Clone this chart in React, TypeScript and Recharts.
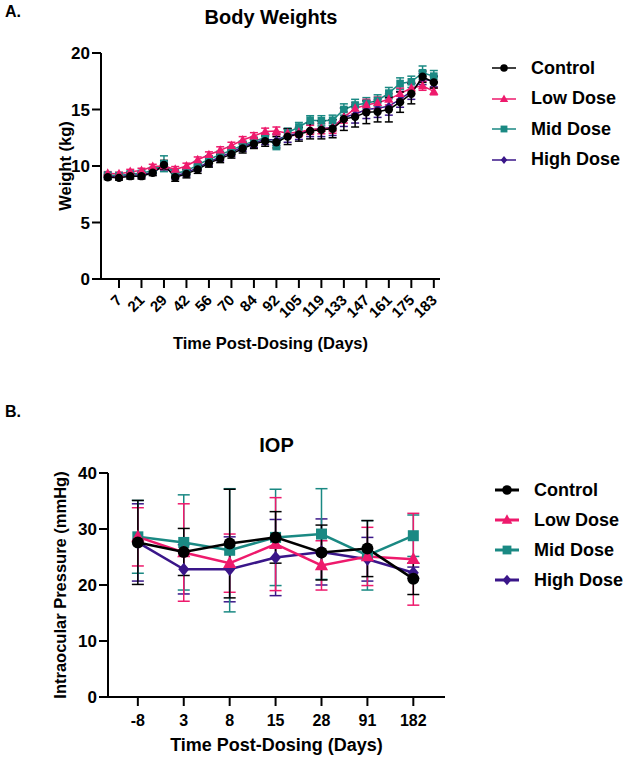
import React from 'react';
import { LineChart, Line, XAxis, YAxis, ErrorBar } from 'recharts';

const FONT = '"Liberation Sans", Arial, Helvetica, sans-serif';

// Body weights (kg), one point per visit; every other day is labelled on the axis
const weightDays = ['1', '7', '14', '21', '25', '29', '35', '42', '49', '56', '63', '70', '77', '84', '88', '92', '98', '105', '112', '119', '126', '133', '140', '147', '154', '161', '168', '175', '179', '183'];
const weightControl = [9.0, 8.95, 9.1, 9.1, 9.4, 10.1, 9.0, 9.3, 9.7, 10.25, 10.65, 11.05, 11.55, 11.95, 12.2, 12.1, 12.6, 12.8, 13.1, 13.2, 13.3, 14.15, 14.35, 14.75, 14.8, 15.0, 15.65, 16.4, 17.9, 17.4];
const weightControlSd = [0.2, 0.2, 0.25, 0.25, 0.25, 0.4, 0.35, 0.35, 0.35, 0.35, 0.35, 0.35, 0.4, 0.4, 0.45, 0.5, 0.7, 0.6, 0.7, 0.8, 0.8, 1.0, 0.9, 1.0, 0.9, 1.1, 0.9, 0.9, 0.5, 0.5];
const weightLow = [9.35, 9.3, 9.5, 9.6, 9.95, 10.0, 9.7, 10.0, 10.55, 11.0, 11.4, 11.8, 12.3, 12.65, 13.05, 13.1, 12.9, 13.0, 13.2, 13.3, 13.35, 14.3, 15.1, 15.4, 15.6, 15.9, 16.4, 16.9, 17.1, 16.6];
const weightLowSd = [0.15, 0.15, 0.2, 0.2, 0.2, 0.3, 0.25, 0.25, 0.25, 0.25, 0.3, 0.3, 0.3, 0.3, 0.3, 0.35, 0.4, 0.4, 0.4, 0.45, 0.45, 0.5, 0.5, 0.5, 0.5, 0.5, 0.5, 0.5, 0.4, 0.3];
const weightMid = [9.2, 9.15, 9.3, 9.35, 9.6, 10.2, 9.35, 9.55, 10.1, 10.6, 11.0, 11.4, 11.85, 12.2, 12.5, 11.85, 12.95, 13.45, 14.05, 14.0, 14.05, 15.0, 15.4, 15.55, 15.8, 16.45, 17.3, 17.45, 18.25, 17.95];
const weightMidSd = [0.2, 0.2, 0.2, 0.2, 0.25, 0.7, 0.3, 0.3, 0.3, 0.3, 0.3, 0.3, 0.35, 0.35, 0.4, 0.4, 0.4, 0.4, 0.4, 0.45, 0.45, 0.5, 0.5, 0.5, 0.5, 0.5, 0.5, 0.5, 0.6, 0.5];
const weightHigh = [9.1, 9.05, 9.2, 9.2, 9.45, 10.0, 9.15, 9.4, 9.85, 10.35, 10.8, 11.2, 11.7, 12.05, 12.35, 12.3, 12.7, 12.9, 13.2, 13.3, 13.4, 14.3, 14.6, 15.0, 15.1, 15.3, 15.9, 16.6, 17.7, 17.5];
const weightHighSd = [0.2, 0.2, 0.25, 0.25, 0.25, 0.35, 0.3, 0.3, 0.3, 0.35, 0.35, 0.35, 0.4, 0.4, 0.45, 0.5, 0.6, 0.55, 0.6, 0.7, 0.7, 0.8, 0.8, 0.8, 0.8, 0.8, 0.7, 0.7, 0.5, 0.5];

// Intraocular pressure (mmHg)
const iopDays = ['-8', '3', '8', '15', '28', '91', '182'];
const iopControl = [27.6, 25.9, 27.4, 28.5, 25.8, 26.5, 21.1];
const iopControlSd = [7.5, 4.2, 9.7, 4.6, 4.9, 5.0, 2.8];
const iopLow = [28.6, 25.8, 23.9, 27.3, 23.5, 25.1, 24.6];
const iopLowSd = [5.2, 8.7, 5.2, 8.3, 4.4, 5.2, 8.2];
const iopMid = [28.6, 27.6, 26.2, 28.5, 29.1, 25.3, 28.8];
const iopMidSd = [6.5, 8.5, 11.0, 8.6, 8.1, 6.2, 3.7];
const iopHigh = [27.6, 22.8, 22.8, 24.9, 25.9, 24.6, 22.2];
const iopHighSd = [6.9, 4.4, 5.8, 6.8, 5.9, 3.9, 1.0];

const groups = [
  { key: 'control', name: 'Control', color: '#000000', shape: 'circle' },
  { key: 'low', name: 'Low Dose', color: '#EE1A6C', shape: 'triangle' },
  { key: 'mid', name: 'Mid Dose', color: '#1A8983', shape: 'square' },
  { key: 'high', name: 'High Dose', color: '#3A1689', shape: 'diamond' },
];
// draw high first so control ends up on top
const drawOrder = [...groups].reverse();

const weightRows = weightDays.map((d, i) => ({
  i, day: d,
  control: weightControl[i], controlSd: weightControlSd[i],
  low: weightLow[i], lowSd: weightLowSd[i],
  mid: weightMid[i], midSd: weightMidSd[i],
  high: weightHigh[i], highSd: weightHighSd[i],
}));

const iopRows = iopDays.map((d, i) => ({
  i, day: d,
  control: iopControl[i], controlSd: iopControlSd[i],
  low: iopLow[i], lowSd: iopLowSd[i],
  mid: iopMid[i], midSd: iopMidSd[i],
  high: iopHigh[i], highSd: iopHighSd[i],
}));

function Marker({ cx, cy, shape, size, color }: any) {
  if (cx == null || cy == null) return null;
  if (shape === 'circle') return <circle cx={cx} cy={cy} r={size} fill={color} />;
  if (shape === 'triangle')
    return <polygon points={`${cx},${cy - size * 1.2} ${cx + size * 1.1},${cy + size * 0.8} ${cx - size * 1.1},${cy + size * 0.8}`} fill={color} />;
  if (shape === 'square') return <rect x={cx - size} y={cy - size} width={size * 2} height={size * 2} fill={color} />;
  return <polygon points={`${cx},${cy - size * 1.2} ${cx + size},${cy} ${cx},${cy + size * 1.2} ${cx - size},${cy}`} fill={color} />;
}

const markerSize = (shape: string, big: boolean) => {
  const s: any = big
    ? { circle: 6, triangle: 6, square: 5.5, diamond: 5.5 }
    : { circle: 4.2, triangle: 4.2, square: 3.8, diamond: 3.6 };
  return s[shape];
};

const WeightTick = ({ x, y, payload }: any) => (
  <text
    transform={`translate(${x + 4},${y + 11}) rotate(-45)`}
    textAnchor="end"
    fontFamily={FONT}
    fontWeight="bold"
    fontSize={15}
    fill="#000"
  >
    {weightDays[payload.value]}
  </text>
);

function Legend({ left, top, gap, big }: any) {
  return (
    <div style={{ position: 'absolute', left, top }}>
      {groups.map((g, k) => (
        <div key={g.key} style={{ position: 'absolute', left: 0, top: k * gap, height: 20, display: 'flex', alignItems: 'center', whiteSpace: 'nowrap' }}>
          <svg width={26} height={20}>
            <line x1={1} y1={10} x2={25} y2={10} stroke={g.color} strokeWidth={big ? 3 : 1.5} />
            <Marker cx={13} cy={10} shape={g.shape} size={markerSize(g.shape, big) * (big ? 0.8 : 0.9)} color={g.color} />
          </svg>
          <span style={{ marginLeft: 14, fontFamily: FONT, fontWeight: 'bold', fontSize: 18, color: '#000' }}>{g.name}</span>
        </div>
      ))}
    </div>
  );
}

const tickStyle = { fontFamily: FONT, fontWeight: 'bold' as const, fontSize: 16, fill: '#000' };
const yTickStyle = { ...tickStyle, fontSize: 17 };
const labelStyle = { fontFamily: FONT, fontWeight: 'bold' as const, fontSize: 16.5, fill: '#000', textAnchor: 'middle' as const };

export default function App() {
  return (
    <div style={{ position: 'absolute', left: 0, top: 0, width: 630, height: 763, background: '#fff', fontFamily: FONT }}>
      <div style={{ position: 'absolute', left: 5, top: 3, fontWeight: 'bold', fontSize: 16 }}>A.</div>
      <div style={{ position: 'absolute', left: 101, width: 340, top: 6, textAlign: 'center', fontWeight: 'bold', fontSize: 20 }}>Body Weights</div>

      <div style={{ position: 'absolute', left: 0, top: 0 }}>
        <LineChart width={630} height={360} data={weightRows} margin={{ top: 53, right: 190, bottom: 6, left: 0 }}>
          <XAxis
            dataKey="i"
            type="number"
            domain={[-0.6, 29.55]}
            ticks={weightRows.filter((r) => r.i % 2 === 1).map((r) => r.i)}
            tick={<WeightTick />}
            tickSize={9}
            height={75}
            stroke="#000"
            strokeWidth={2}
            label={{ value: 'Time Post-Dosing (Days)', position: 'insideBottom', offset: 5, style: labelStyle }}
          />
          <YAxis
            type="number"
            domain={[0, 20]}
            ticks={[0, 5, 10, 15, 20]}
            width={101}
            tickSize={9}
            tickMargin={2}
            tick={yTickStyle}
            stroke="#000"
            strokeWidth={2}
            label={{ value: 'Weight (kg)', angle: -90, position: 'insideLeft', offset: 65, style: labelStyle }}
          />
          {drawOrder.map((g) => (
            <Line
              key={g.key}
              dataKey={g.key}
              stroke={g.color}
              strokeWidth={1.5}
              isAnimationActive={false}
              dot={(p: any) => <Marker key={`w-${g.key}-${p.index}`} cx={p.cx} cy={p.cy} shape={g.shape} size={markerSize(g.shape, false)} color={g.color} />}
              activeDot={false}
            >
              <ErrorBar dataKey={`${g.key}Sd`} width={4} stroke={g.color} strokeWidth={1.5} direction="y" isAnimationActive={false} />
            </Line>
          ))}
        </LineChart>
      </div>
      <Legend left={491} top={58} gap={30.5} big={false} />

      <div style={{ position: 'absolute', left: 5, top: 403, fontWeight: 'bold', fontSize: 16 }}>B.</div>
      <div style={{ position: 'absolute', left: 108, width: 337, top: 434, textAlign: 'center', fontWeight: 'bold', fontSize: 20 }}>IOP</div>

      <div style={{ position: 'absolute', left: 0, top: 390 }}>
        <LineChart width={630} height={373} data={iopRows} margin={{ top: 83, right: 185, bottom: 6, left: 0 }}>
          <XAxis
            dataKey="i"
            type="number"
            domain={[-0.65, 6.69]}
            ticks={iopRows.map((r) => r.i)}
            tickFormatter={(v: number) => iopDays[v]}
            tick={tickStyle}
            tickSize={9}
            tickMargin={9}
            height={60}
            stroke="#000"
            strokeWidth={2}
            label={{ value: 'Time Post-Dosing (Days)', position: 'insideBottom', offset: 6, style: { ...labelStyle, fontSize: 18 } }}
          />
          <YAxis
            type="number"
            domain={[0, 40]}
            ticks={[0, 10, 20, 30, 40]}
            width={108}
            tickSize={9}
            tickMargin={2}
            tick={yTickStyle}
            stroke="#000"
            strokeWidth={2}
            label={{ value: 'Intraocular Pressure (mmHg)', angle: -90, position: 'insideLeft', offset: 60, style: labelStyle }}
          />
          {drawOrder.map((g) => (
            <Line
              key={g.key}
              dataKey={g.key}
              stroke={g.color}
              strokeWidth={2.5}
              isAnimationActive={false}
              dot={(p: any) => <Marker key={`p-${g.key}-${p.index}`} cx={p.cx} cy={p.cy} shape={g.shape} size={markerSize(g.shape, true)} color={g.color} />}
              activeDot={false}
            >
              <ErrorBar dataKey={`${g.key}Sd`} width={6} stroke={g.color} strokeWidth={1.5} direction="y" isAnimationActive={false} />
            </Line>
          ))}
        </LineChart>
      </div>
      <Legend left={494} top={480} gap={30} big={true} />
    </div>
  );
}
